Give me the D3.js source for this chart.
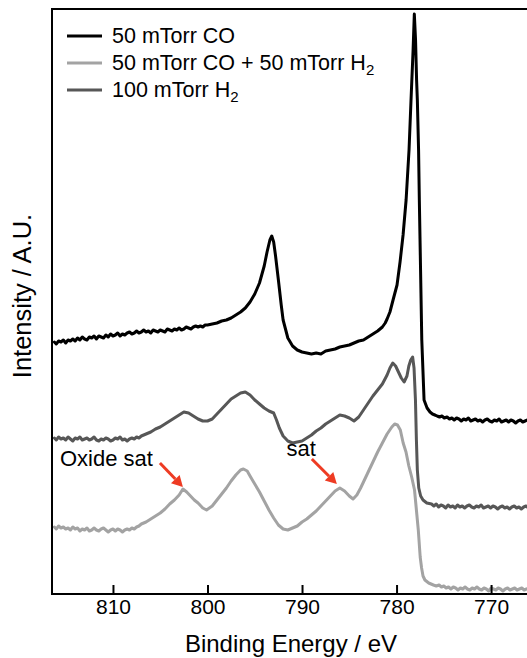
<!DOCTYPE html>
<html>
<head>
<meta charset="utf-8">
<script src="https://cdn.jsdelivr.net/npm/d3@7"></script>
<style>
  html, body { margin: 0; padding: 0; background: #fff; }
  svg { display: block; font-family: "Liberation Sans", Arial, Helvetica, sans-serif; }
</style>
</head>
<body>
<svg id="chart" width="527" height="658"></svg>
<script>
// Co 2p XPS spectra: [binding energy (eV), intensity (A.U.)]
const co50 = [
  [816.2,252],[816,250],[815.75,253],[815.5,252],[815.25,254],[815,251],[814.75,254],[814.5,253],
  [814.25,255],[814,253],[813.75,256],[813.5,254],[813.25,257],[813,255],[812.75,254],[812.5,257],
  [812.25,256],[812,258],[811.75,255],[811.5,258],[811.25,257],[811,256],[810.75,259],[810.5,257],
  [810.25,260],[810,258],[809.75,259],[809.5,261],[809.25,258],[809,260],[808.75,259],[808.5,261],
  [808.25,262],[808,260],[807.75,261],[807.5,263],[807.25,261],[807,262],[806.75,264],[806.5,262],
  [806.25,263],[806,261],[805.75,264],[805.5,263],[805.25,262],[805,264],[804.75,263],[804.5,262],
  [804.25,265],[804,264],[803.75,263],[803.5,265],[803.25,264],[803,266],[802.75,264],[802.5,265],
  [802.25,267],[802,266],[801.75,265],[801.5,267],[801.25,268],[801,267],[800.75,268],[800.5,267],
  [800.25,269],[800,269],[799.5,270],[799,271],[798.5,273],[798,274],[797.5,276],[797,279],
  [796.5,282],[796,286],[795.5,292],[795,300],[794.5,311],[794,328],[793.7,342],[793.4,354],
  [793.2,358],[793.0,352],[792.8,338],[792.5,314],[792.2,289],[792,274],[791.5,256],[791,248],
  [790.5,244],[790,242],[789.5,241],[789,240],[788.5,241],[788,240],[787.5,243],[787,244],
  [786.5,245],[786,247],[785.5,248],[785,249],[784.5,251],[784,253],[783.5,254],[783,257],
  [782.5,260],[782,263],[781.5,267],[781.2,271],[781,275],[780.7,282],[780.37,294],[779.95,309],
  [779.63,332],[779.31,359],[778.99,394],[778.68,444],[778.47,494],[778.25,544],[778.12,580],
  [777.99,554],[777.88,514],[777.8,494],[777.67,444],[777.59,394],[777.46,324],[777.33,254],
  [777.09,194],[776.77,186],[776.46,182],[776.2,180],[775.95,179],[775.71,178],[775.45,177],
  [775.2,178],[774.95,176],[774.66,177],[774.4,175],[774.15,176],[773.9,174],[773.65,176],
  [773.4,175],[773.15,173],[772.9,175],[772.65,174],[772.4,176],[772.15,173],[771.9,174],
  [771.65,175],[771.4,173],[771.15,174],[770.9,172],[770.65,174],[770.4,175],[770.15,173],
  [769.9,172],[769.65,174],[769.4,173],[769.15,175],[768.9,172],[768.65,173],[768.4,174],
  [768.15,172],[767.9,174],[767.65,173],[767.4,171],[767.15,173],[766.9,174],[766.65,172],
  [766.4,173],[766.15,174],[765.9,172],[765.65,173]
];

const coH2 = [
  [816.2,67],[816,65],[815.75,68],[815.5,66],[815.25,67],[815,65],[814.75,66],[814.5,64],
  [814.25,67],[814,65],[813.75,66],[813.5,63],[813.25,65],[813,64],[812.75,66],[812.5,63],
  [812.25,64],[812,66],[811.75,64],[811.5,63],[811.25,65],[811,66],[810.75,64],[810.5,62],
  [810.25,64],[810,65],[809.75,63],[809.5,65],[809.25,64],[809,62],[808.75,64],[808.5,65],
  [808.25,64],[808,66],[807.75,65],[807.5,67],[807.25,68],[807,70],[806.5,72],[806,75],
  [805.5,78],[805,81],[804.5,85],[804,90],[803.5,94],[803,99],[802.6,105],[802.2,102],
  [801.8,98],[801.4,94],[801,91],[800.5,86],[800.1,84],[799.5,88],[799,94],[798.5,100],
  [798,106],[797.5,113],[797,119],[796.5,124],[796.2,125],[795.8,123],[795.5,118],[795,110],
  [794.5,102],[794,93],[793.5,84],[793,76],[792.5,69],[792,65],[791.5,64],[791,66],
  [790.5,68],[790,72],[789.5,75],[789,79],[788.5,83],[788,88],[787.5,93],[787,98],
  [786.5,103],[786,106],[785.5,103],[785,98],[784.6,95],[784.2,99],[783.8,106],[783.5,112],
  [783,122],[782.5,132],[782,142],[781.5,151],[781,160],[780.5,167],[780.2,170],[779.9,169],
  [779.6,164],[779.3,151],[779,142],[778.7,128],[778.4,117],[778.1,104],[777.9,84],[777.7,64],
  [777.5,37],[777.35,26],[777.2,18],[777.0,14],[776.6,11],[776.1,9],[775.8,8],[775.5,9],
  [775.25,7],[775,8],[774.75,6],[774.5,7],[774.25,5],[774,7],[773.75,6],[773.5,4],
  [773.25,6],[773,5],[772.75,7],[772.5,5],[772.25,4],[772,6],[771.75,5],[771.5,7],
  [771.25,5],[771,4],[770.75,6],[770.5,5],[770.25,3],[770,6],[769.75,5],[769.5,4],
  [769.25,6],[769,5],[768.75,3],[768.5,5],[768.25,6],[768,4],[767.75,5],[767.5,6],
  [767.25,4],[767,5],[766.75,6],[766.5,4],[766.25,5],[766,6],[765.75,4],[765.5,5]
];

const h2100 = [
  [816.2,156],[816,154],[815.75,157],[815.5,155],[815.25,156],[815,154],[814.75,157],[814.5,155],
  [814.25,153],[814,156],[813.75,155],[813.5,157],[813.25,154],[813,155],[812.75,156],[812.5,154],
  [812.25,155],[812,157],[811.75,154],[811.5,153],[811.25,155],[811,154],[810.75,156],[810.5,155],
  [810.25,153],[810,154],[809.75,156],[809.5,155],[809.25,157],[809,154],[808.75,155],[808.5,153],
  [808.25,155],[808,156],[807.75,155],[807.5,157],[807.25,156],[807,158],[806.5,160],[806,162],
  [805.5,165],[805,167],[804.5,170],[804,173],[803.5,176],[803,179],[802.5,182],[802,181],
  [801.5,178],[801,175],[800.5,173],[800,173],[799.5,175],[799,180],[798.5,185],[798,190],
  [797.5,195],[797,198],[796.5,201],[796,202],[795.5,199],[795,194],[794.5,190],[794,186],
  [793.5,183],[793,181],[792.7,174],[792.4,166],[792,158],[791.5,153],[791,151],[790.5,152],
  [790,153],[789.5,156],[789,159],[788.5,163],[788,166],[787.5,170],[787,173],[786.5,176],
  [786,179],[785.5,178],[785,176],[784.5,173],[784,177],[783.5,184],[783,191],[782.5,198],
  [782,204],[781.5,210],[781,219],[780.7,226],[780.4,231],[780.1,228],[779.8,222],[779.5,216],
  [779.2,212],[778.9,218],[778.7,228],[778.5,234],[778.3,237],[778.15,226],[778.0,194],
  [777.9,154],[777.8,124],[777.65,106],[777.45,98],[777.2,94],[776.8,91],[776.3,90],
  [776.05,88],[775.8,90],[775.55,87],[775.3,89],[775.05,88],[774.8,86],[774.55,89],[774.3,87],
  [774.05,88],[773.8,86],[773.55,89],[773.3,87],[773.05,88],[772.8,86],[772.55,88],[772.3,89],
  [772.05,87],[771.8,86],[771.55,88],[771.3,87],[771.05,89],[770.8,86],[770.55,87],[770.3,88],
  [770.05,86],[769.8,88],[769.55,87],[769.3,85],[769.05,87],[768.8,88],[768.55,86],[768.3,87],
  [768.05,85],[767.8,87],[767.55,88],[767.3,86],[767.05,87],[766.8,85],[766.55,87],[766.3,88],
  [766.05,86],[765.8,87]
];

const seriesNames = ["50 mTorr CO", "50 mTorr CO + 50 mTorr H", "100 mTorr H"];
const seriesSubscripts = ["", "2", "2"];
const xTicks = [810, 800, 790, 780, 770];
const annotations = [
  { label: "Oxide sat", energy: 802.6, intensity: 105 },
  { label: "sat", energy: 786, intensity: 106 }
];

const svg = d3.select("#chart");
const plotLeft = 52, plotRight = 527, plotTop = 9, plotBottom = 594;

const x = d3.scaleLinear().domain([816.45, 766.2]).range([plotLeft, plotRight]);
const y = d3.scaleLinear().domain([0, 585]).range([plotBottom, plotTop]);

svg.append("defs").append("clipPath").attr("id", "plot-clip")
  .append("rect").attr("x", plotLeft).attr("y", plotTop - 5)
  .attr("width", plotRight - plotLeft).attr("height", plotBottom - plotTop + 5);

const line = d3.line().x(d => x(d[0])).y(d => y(d[1]));

const series = [
  { data: h2100, color: "#575757" },
  { data: coH2, color: "#a3a3a3" },
  { data: co50, color: "#000000" }
];

const plot = svg.append("g").attr("clip-path", "url(#plot-clip)");
series.forEach(s => {
  plot.append("path")
    .datum(s.data)
    .attr("d", line)
    .attr("fill", "none")
    .attr("stroke", s.color)
    .attr("stroke-width", 3)
    .attr("stroke-linejoin", "round")
    .attr("stroke-linecap", "round");
});

// frame: top, left and bottom edges
svg.append("path")
  .attr("d", `M${plotRight},${plotTop}H${plotLeft}V${plotBottom}H${plotRight}`)
  .attr("fill", "none").attr("stroke", "#000").attr("stroke-width", 2);

const xAxis = d3.axisBottom(x).tickValues(xTicks).tickSizeInner(-9).tickSizeOuter(0).tickPadding(5)
  .tickFormat(d3.format("d"));
const gx = svg.append("g").attr("transform", `translate(0,${plotBottom})`).call(xAxis);
gx.select(".domain").remove();
gx.selectAll(".tick line").attr("stroke", "#000").attr("stroke-width", 2);
gx.selectAll(".tick text").attr("fill", "#000").style("font-size", "21px")
  .style("font-family", "'Liberation Sans', Arial, sans-serif");

svg.append("text")
  .attr("x", 291).attr("y", 652)
  .attr("text-anchor", "middle")
  .style("font-size", "24px")
  .text("Binding Energy / eV");

svg.append("text")
  .attr("transform", "translate(31,296) rotate(-90)")
  .attr("text-anchor", "middle")
  .style("font-size", "25.5px")
  .text("Intensity / A.U.");

// legend
const legendColors = ["#000000", "#a3a3a3", "#575757"];
seriesNames.forEach((name, i) => {
  const yy = 36 + i * 27;
  svg.append("line")
    .attr("x1", 67).attr("x2", 102).attr("y1", yy).attr("y2", yy)
    .attr("stroke", legendColors[i]).attr("stroke-width", 3);
  const t = svg.append("text").attr("x", 112).attr("y", yy + 7).style("font-size", "21.5px").text(name);
  if (seriesSubscripts[i]) {
    t.append("tspan").attr("dy", 5).style("font-size", "15px").text(seriesSubscripts[i]);
  }
});

// satellite annotations with red arrows
const arrowColor = "#ee3b23";
const annOffsets = [
  { tip: [0, -2], tail: [-23, -24], text: [-7, 3] },
  { tip: [-3, -4], tail: [-25, -25], text: [4, -3] }
];
annotations.forEach((a, i) => {
  const o = annOffsets[i];
  const tx = x(a.energy) + o.tip[0], ty = y(a.intensity) + o.tip[1];
  const sx = tx + o.tail[0], sy = ty + o.tail[1];
  const ang = Math.atan2(ty - sy, tx - sx);
  const headLen = 11, headW = 6;
  const bx = tx - headLen * Math.cos(ang), by = ty - headLen * Math.sin(ang);
  svg.append("line")
    .attr("x1", sx).attr("y1", sy).attr("x2", bx).attr("y2", by)
    .attr("stroke", arrowColor).attr("stroke-width", 3);
  const px = -Math.sin(ang), py = Math.cos(ang);
  svg.append("path")
    .attr("d", `M${tx},${ty}L${bx + px * headW},${by + py * headW}L${bx - px * headW},${by - py * headW}Z`)
    .attr("fill", arrowColor);
  svg.append("text")
    .attr("x", sx + o.text[0]).attr("y", sy + o.text[1])
    .attr("text-anchor", "end")
    .style("font-size", "22px")
    .text(a.label);
});
</script>
</body>
</html>
